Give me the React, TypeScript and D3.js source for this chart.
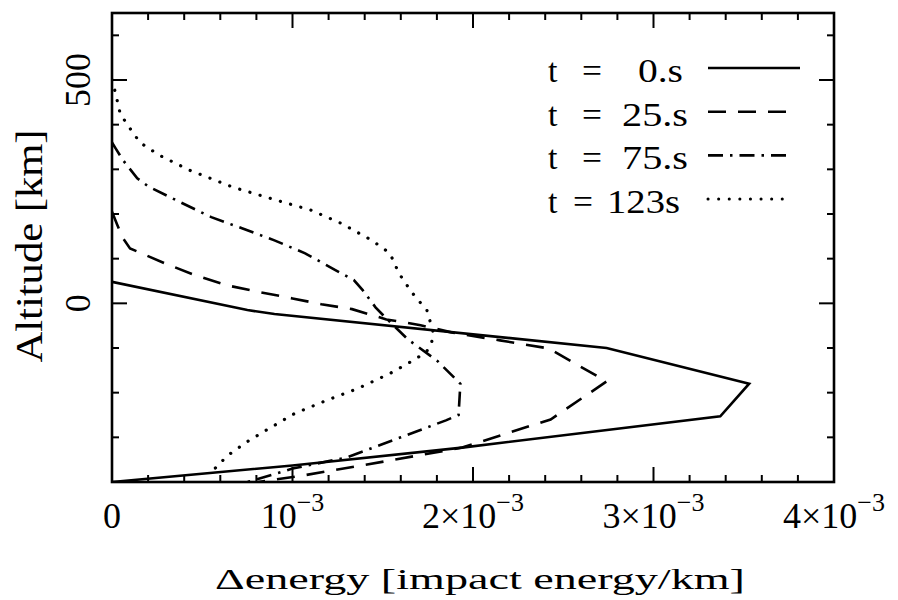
import React from "react";
import * as d3 from "d3";

const W = 898;
const H = 600;
const M = { left: 112, right: 834, top: 13, bottom: 482 };

// energy deposited per km, in units of 1e-3 impact energy / km; altitude in km
const energyT0 = [0, 0.75, 0.9, 2.74, 3.53, 3.37, 1.94, 1.0, 0];
const altT0 = [48, -15, -24, -100, -180, -253, -323, -363, -400];

const energyT25 = [0, 0.03, 0.06, 0.1, 0.29, 0.46, 0.64, 0.82, 1.0, 1.16, 1.33, 1.52, 1.71, 1.88, 2.15, 2.42, 2.74, 2.43, 1.94, 1.51, 1.05, 0.81];
const altT25 = [205, 175, 146, 123, 90, 63, 40, 25, 11, -2, -13, -36, -49, -65, -83, -101, -175, -260, -323, -354, -386, -400];

const energyT75 = [0, 0.02, 0.06, 0.14, 0.2, 0.38, 0.55, 0.72, 0.9, 1.07, 1.24, 1.34, 1.39, 1.46, 1.52, 1.64, 1.8, 1.93, 1.92, 1.85, 1.6, 1.3, 1.0, 0.75];
const altT75 = [360, 347, 321, 280, 262, 226, 193, 168, 141, 112, 74, 52, 29, -9, -34, -81, -128, -180, -250, -262, -300, -345, -370, -400];

const energyT123 = [0, 0.02, 0.045, 0.085, 0.155, 0.26, 0.43, 0.67, 0.91, 1.1, 1.27, 1.44, 1.54, 1.59, 1.66, 1.745, 1.78, 1.77, 1.74, 1.65, 1.54, 1.36, 1.19, 1.01, 0.85, 0.74, 0.64, 0.55];
const altT123 = [500, 470, 425, 400, 360, 332, 298, 260, 231, 209, 179, 141, 112, 67, 25, -16, -65, -90, -110, -132, -157, -191, -217, -247, -285, -312, -341, -378];

const legendValues = ["0.s", "25.s", "75.s", "123s"];

const xTickValues = [0, 1, 2, 3, 4];
const xTickMantissa = ["0", "10", "2×10", "3×10", "4×10"];
const yTickValues = [0, 500];
const yTickLabels = ["0", "500"];

const xLabel = "Δenergy [impact energy/km]";
const yLabel = "Altitude [km]";

const series = [
  { e: energyT0, a: altT0, dash: "none", cap: "butt" },
  { e: energyT25, a: altT25, dash: "18 12", cap: "butt" },
  { e: energyT75, a: altT75, dash: "15 7 2.5 7", cap: "butt" },
  { e: energyT123, a: altT123, dash: "0.1 10.5", cap: "round" },
];

// legend text layout: [equals x, value x, value width]
const legendLayout = [
  [582, 638, 45],
  [582, 622, 66],
  [582, 622, 66],
  [573, 607, 73],
];

const FONT = "'Liberation Serif', 'Times New Roman', serif";

export default function App() {
  const x = d3.scaleLinear().domain([0, 4]).range([M.left, M.right]);
  const y = d3.scaleLinear().domain([-400, 650]).range([M.bottom, M.top]);

  const line = d3
    .line<[number, number]>()
    .x((d) => x(d[0]))
    .y((d) => y(d[1]))
    .curve(d3.curveLinear);

  const xMinor = d3.range(0, 4.0001, 0.2).map((v) => +v.toFixed(1));
  const yMinor = d3.range(-400, 651, 100);

  const tickStroke = 2;
  const minorLen = 7;
  const majorLen = 15;

  return (
    <svg
      width={W}
      height={H}
      viewBox={`0 0 ${W} ${H}`}
      style={{ position: "absolute", left: 0, top: 0, background: "#fff" }}
    >
      <defs>
        <clipPath id="plotArea">
          <rect x={M.left} y={M.top} width={M.right - M.left} height={M.bottom - M.top} />
        </clipPath>
      </defs>
      <rect x={0} y={0} width={W} height={H} fill="#fff" />

      {/* data curves */}
      <g clipPath="url(#plotArea)">
        {series.map((s, i) => (
          <path
            key={i}
            d={line(s.e.map((v, k) => [v, s.a[k]] as [number, number])) || ""}
            fill="none"
            stroke="#000"
            strokeWidth={i === 3 ? 3.2 : 2.6}
            strokeDasharray={s.dash}
            strokeLinecap={s.cap as any}
            strokeLinejoin="miter"
          />
        ))}
      </g>

      {/* x ticks, bottom and top, pointing inward */}
      {xMinor.map((v) => {
        if (v === 0 || v === 4) return null;
        const major = Number.isInteger(v);
        const len = major ? majorLen : minorLen;
        return (
          <g key={"xt" + v} stroke="#000" strokeWidth={tickStroke}>
            <line x1={x(v)} x2={x(v)} y1={M.bottom} y2={M.bottom - len} />
            <line x1={x(v)} x2={x(v)} y1={M.top} y2={M.top + len} />
          </g>
        );
      })}

      {/* y ticks, left and right */}
      {yMinor.map((v) => {
        if (v === -400) return null;
        const len = v % 500 === 0 ? majorLen : minorLen;
        return (
          <g key={"yt" + v} stroke="#000" strokeWidth={tickStroke}>
            <line x1={M.left} x2={M.left + len} y1={y(v)} y2={y(v)} />
            <line x1={M.right} x2={M.right - len} y1={y(v)} y2={y(v)} />
          </g>
        );
      })}

      {/* frame */}
      <rect
        x={M.left}
        y={M.top}
        width={M.right - M.left}
        height={M.bottom - M.top}
        fill="none"
        stroke="#000"
        strokeWidth={2.6}
      />

      {/* x tick labels */}
      {xTickValues.map((v, i) => (
        <text
          key={"xl" + v}
          x={x(v)}
          y={528}
          textAnchor="middle"
          fontFamily={FONT}
          fontSize={36}
          fill="#000"
        >
          {xTickMantissa[i]}
          {v !== 0 && (
            <tspan fontSize={26} dy={-17}>
              −3
            </tspan>
          )}
        </text>
      ))}

      {/* y tick labels, rotated */}
      {yTickValues.map((v, i) => (
        <text
          key={"yl" + v}
          transform={`translate(90,${y(v)}) rotate(-90)`}
          textAnchor="middle"
          fontFamily={FONT}
          fontSize={36}
          fill="#000"
        >
          {yTickLabels[i]}
        </text>
      ))}

      {/* axis titles */}
      <text
        x={480}
        y={589}
        textAnchor="middle"
        fontFamily={FONT}
        fontSize={30}
        textLength={530}
        lengthAdjust="spacingAndGlyphs"
        fill="#000"
      >
        {xLabel}
      </text>
      <text
        transform={`translate(42,246) rotate(-90)`}
        textAnchor="middle"
        fontFamily={FONT}
        fontSize={38}
        textLength={233}
        lengthAdjust="spacingAndGlyphs"
        fill="#000"
      >
        {yLabel}
      </text>

      {/* legend */}
      {series.map((s, i) => {
        const base = 82 + i * 43.7;
        const ly = base - 14;
        const [eqX, valX, valW] = legendLayout[i];
        return (
          <g key={"lg" + i} fontFamily={FONT} fontSize={34} fill="#000">
            <text x={548} y={base}>t</text>
            <text x={eqX} y={base} textLength={20} lengthAdjust="spacingAndGlyphs">=</text>
            <text x={valX} y={base} textLength={valW} lengthAdjust="spacingAndGlyphs">
              {legendValues[i]}
            </text>
            <line
              x1={708}
              x2={i === 0 ? 800 : 792}
              y1={ly}
              y2={ly}
              stroke="#000"
              strokeWidth={i === 3 ? 3 : 2.6}
              strokeDasharray={s.dash}
              strokeLinecap={s.cap as any}
            />
          </g>
        );
      })}
    </svg>
  );
}
